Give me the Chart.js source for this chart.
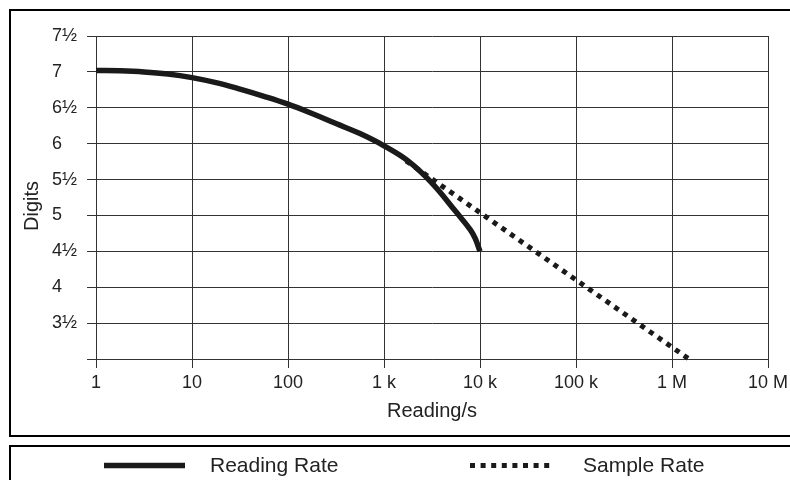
<!DOCTYPE html>
<html>
<head>
<meta charset="utf-8">
<script src="https://cdn.jsdelivr.net/npm/chart.js@4"></script>
<style>
  body { margin: 0; background: #fff; overflow: hidden; }
  .frame { position: absolute; left: 9px; border: 2px solid #000; width: 800px; }
  #plotFrame { top: 9px; height: 424px; }
  #legendFrame { top: 445px; height: 60px; }
  #wrap { position: absolute; left: 0; top: 0; width: 790px; height: 480px; }
</style>
</head>
<body>
<div class="frame" id="plotFrame"></div>
<div class="frame" id="legendFrame"></div>
<div id="wrap"><canvas id="chart" width="790" height="480"></canvas></div>
<script>
// x axis: readings per second (log), y axis: digits of resolution
const xTickValues = [1, 10, 100, 1e3, 1e4, 1e5, 1e6, 1e7];
const xTickLabels = ["1", "10", "100", "1 k", "10 k", "100 k", "1 M", "10 M"];
const yTickValues = [3, 3.5, 4, 4.5, 5, 5.5, 6, 6.5, 7, 7.5];
const yTickLabels = ["", "3½", "4", "4½", "5", "5½", "6", "6½", "7", "7½"];

// Reading Rate curve
const readingRate = [1, 1.78, 3.16, 5.62, 10, 17.8, 31.6, 56.2, 100, 178, 316, 562, 1000, 1778, 3162, 5623, 7943, 8913, 10000];
const readingDigits = [7.02, 7.015, 7.0, 6.97, 6.92, 6.85, 6.76, 6.66, 6.55, 6.42, 6.28, 6.14, 5.97, 5.76, 5.45, 5.05, 4.8, 4.68, 4.5];

// Sample Rate line
const sampleRate = [1700, 1500000];
const sampleDigits = [5.76, 3.0];

const ink = "#1a1a1a";
const gridColor = "#333";
const fontFamily = "'Liberation Sans', Arial, Helvetica, sans-serif";

// title on the y axis and the legend row under the chart
const extras = {
  id: "extras",
  afterDraw(chart) {
    const ctx = chart.ctx;
    ctx.save();
    ctx.fillStyle = "#222";
    ctx.font = "20px " + fontFamily;
    ctx.textAlign = "center";
    ctx.textBaseline = "middle";
    ctx.translate(32, 206);
    ctx.rotate(-Math.PI / 2);
    ctx.fillText("Digits", 0, 0);
    ctx.restore();

    const slots = [
      { x0: 104, x1: 185, tx: 210 },
      { x0: 470, x1: 553, tx: 583 },
    ];
    const y = 465.5;
    chart.data.datasets.forEach((ds, i) => {
      const s = slots[i];
      ctx.save();
      ctx.strokeStyle = ds.borderColor;
      ctx.lineWidth = ds.borderWidth;
      ctx.lineCap = "butt";
      ctx.setLineDash(ds.borderDash || []);
      ctx.beginPath();
      ctx.moveTo(s.x0, y);
      ctx.lineTo(s.x1, y);
      ctx.stroke();
      ctx.setLineDash([]);
      ctx.fillStyle = "#222";
      ctx.font = "21px " + fontFamily;
      ctx.textAlign = "left";
      ctx.textBaseline = "middle";
      ctx.fillText(ds.label, s.tx, y + 1);
      ctx.restore();
    });
  },
};

const ctx = document.getElementById("chart").getContext("2d");
new Chart(ctx, {
  type: "line",
  data: {
    datasets: [
      {
        label: "Reading Rate",
        data: readingRate.map((r, i) => ({ x: r, y: readingDigits[i] })),
        borderColor: ink,
        borderWidth: 5.5,
        pointRadius: 0,
        tension: 0.4,
        clip: false,
      },
      {
        label: "Sample Rate",
        data: sampleRate.map((r, i) => ({ x: r, y: sampleDigits[i] })),
        borderColor: ink,
        borderWidth: 5,
        borderDash: [5, 5.6],
        borderCapStyle: "butt",
        pointRadius: 0,
        clip: false,
      },
    ],
  },
  options: {
    responsive: false,
    animation: false,
    events: [],
    layout: { padding: { left: 52, right: 22, top: 36, bottom: 51 } },
    plugins: { legend: { display: false }, tooltip: { enabled: false } },
    scales: {
      x: {
        type: "logarithmic",
        min: 1,
        max: 1e7,
        afterBuildTicks: (scale) => {
          scale.ticks = xTickValues.map((v) => ({ value: v, major: true }));
        },
        afterFit: (scale) => {
          scale.height = 70;
          scale.paddingLeft = 0;
          scale.paddingRight = 0;
        },
        ticks: {
          autoSkip: false,
          maxRotation: 0,
          padding: 4,
          color: "#222",
          font: { family: fontFamily, size: 18 },
          callback: (val, idx) => xTickLabels[idx],
        },
        grid: { color: gridColor, lineWidth: 1, tickLength: 9 },
        border: { color: gridColor, width: 1 },
        title: {
          display: true,
          text: "Reading/s",
          color: "#222",
          font: { family: fontFamily, size: 20 },
          padding: { top: 0, bottom: 6 },
        },
      },
      y: {
        type: "linear",
        min: 3,
        max: 7.5,
        afterBuildTicks: (scale) => {
          scale.ticks = yTickValues.map((v) => ({ value: v }));
        },
        afterFit: (scale) => {
          scale.width = 44;
          scale.paddingTop = 0;
          scale.paddingBottom = 0;
        },
        ticks: {
          crossAlign: "far",
          padding: 4,
          color: "#222",
          font: { family: fontFamily, size: 18 },
          callback: (val, idx) => yTickLabels[idx],
        },
        grid: { color: gridColor, lineWidth: 1, tickLength: 9 },
        border: { color: gridColor, width: 1 },
      },
    },
  },
  plugins: [extras],
});
</script>
</body>
</html>
